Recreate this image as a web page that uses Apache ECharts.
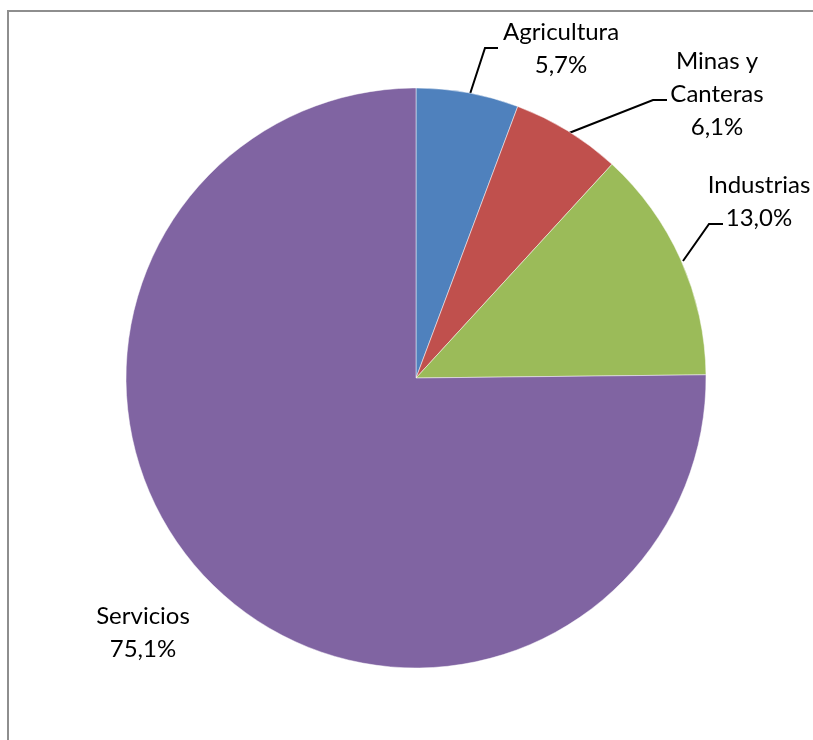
<!DOCTYPE html>
<html>
<head>
<meta charset="utf-8">
<script src="https://cdn.jsdelivr.net/npm/echarts@6/dist/echarts.min.js"></script>
<style>
  html, body { margin: 0; padding: 0; background: #fff; }
  #chart { width: 813px; height: 740px; }
</style>
</head>
<body>
<div id="chart"></div>
<script>
// Sector shares of output (percent)
const categories = ['Agricultura', 'Minas y\nCanteras', 'Industrias', 'Servicios'];
const shares = [5.7, 6.1, 13.0, 75.1];
const colors = ['#4F81BD', '#C0504D', '#9BBB59', '#8064A2'];

// Label placement around the pie (text block centre and leader line)
const labelSpots = [
  { x: 561, y: 49, line: [[470, 94], [485, 48], [498, 48]] },
  { x: 717, y: 94, line: [[569, 133], [653, 100], [667, 100]] },
  { x: 759, y: 202, line: [[683, 261], [709, 224], [723, 224]] },
  { x: 143, y: 633, line: null }
];

const chart = echarts.init(document.getElementById('chart'), null, { renderer: 'canvas' });

chart.setOption({
  animation: false,
  backgroundColor: '#ffffff',
  graphic: [{
    type: 'polyline',
    shape: { points: [[8, 760], [8, 11], [830, 11]] },
    style: { stroke: '#8e8e8e', lineWidth: 2, fill: null }
  }],
  series: [{
    type: 'pie',
    center: [416, 378],
    radius: 290,
    startAngle: 90,
    clockwise: true,
    data: categories.map((name, i) => ({
      name: name,
      value: shares[i],
      itemStyle: { color: colors[i] },
      labelLine: { show: !!labelSpots[i].line }
    })),
    itemStyle: { borderColor: 'rgba(255,255,255,0.6)', borderWidth: 0.8 },
    label: {
      show: true,
      formatter: p => p.name + '\n' + p.value.toFixed(1).replace('.', ',') + '%',
      fontFamily: 'Lato',
      fontSize: 24,
      lineHeight: 33,
      color: '#000',
      align: 'center',
      overflow: 'none'
    },
    labelLine: {
      show: true,
      lineStyle: { color: '#000', width: 2 }
    },
    labelLayout: function (params) {
      const s = labelSpots[params.dataIndex];
      const out = { x: s.x, y: s.y, align: 'center', verticalAlign: 'middle', width: 200 };
      if (s.line) out.labelLinePoints = s.line;
      return out;
    },
    emphasis: { disabled: true }
  }]
});
</script>
</body>
</html>
